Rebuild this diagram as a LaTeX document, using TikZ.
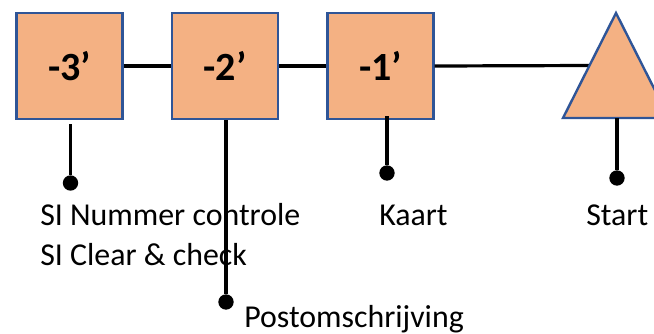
\documentclass[tikz,border=0pt]{standalone}
\usepackage{fontspec}
\setmainfont{Carlito}
\usetikzlibrary{positioning,calc}

\definecolor{boxfill}{HTML}{F4B183}
\definecolor{boxline}{HTML}{2F5597}

\begin{document}
\begin{tikzpicture}[x=0.75pt, y=-0.75pt,
  minute/.style={draw=boxline, fill=boxfill, line width=1.8pt, minimum size=79.5pt,
    inner sep=0pt, font=\fontsize{30}{36}\selectfont\bfseries},
  stem/.style={line width=2.4pt},
  dot/.style={circle, fill, inner sep=0pt, minimum size=11.5pt},
  lbl/.style={anchor=base west, inner sep=0pt, font=\fontsize{23.9}{28}\selectfont}]

  \useasboundingbox (0,0) rectangle (654,333);

  % Draw timeline
  \foreach \name/\x/\t in {m3/69.5/-3, m2/225/-2, m1/380.5/-1}
    \node[minute] (\name) at (\x,66) {\t’};

  \coordinate (apex) at (616,13);
  \coordinate (baseR) at (669,118);
  \coordinate (baseL) at (563,118);
  \coordinate (trileft) at ($(baseL)!0.5!(apex)$);
  \coordinate (tribase) at ($(baseL)!0.5!(baseR)$);

  \draw[stem] (m3.east) -- (m2.west);
  \draw[stem] (m2.east) -- (m1.west);
  \draw[stem] (m1.east) -- (trileft);

  % Draw start triangle
  \draw[fill=boxfill, draw=boxline, line width=1.8pt] (apex) -- (baseR) -- (baseL) -- cycle;

  % Draw texts
  \node[lbl] (tnum) at (40,225) {SI Nummer controle};
  \node[lbl] (tclear) at (40,265) {SI Clear \& check};
  \node[lbl] (tkaart) at (379,225) {Kaart};
  \node[lbl] (tstart) at (586,225) {Start};
  \node[lbl] (tpost) at (244,327) {Postomschrijving};

  % Draw dots
  \node[dot] (d3) at (70.5,183) {};
  \node[dot] (d2) at (226,302) {};
  \node[dot] (d1) at (387,173) {};
  \node[dot] (d0) at (617,178) {};

  \draw[stem, shorten <=3pt] (d3 |- m3.south) -- (d3);
  \draw[stem] (d2 |- m2.south) -- (d2);
  \draw[stem] (d1 |- m1.south) ++(0,-4) -- (d1);
  \draw[stem] (d0 |- tribase) -- (d0);
\end{tikzpicture}
\end{document}
